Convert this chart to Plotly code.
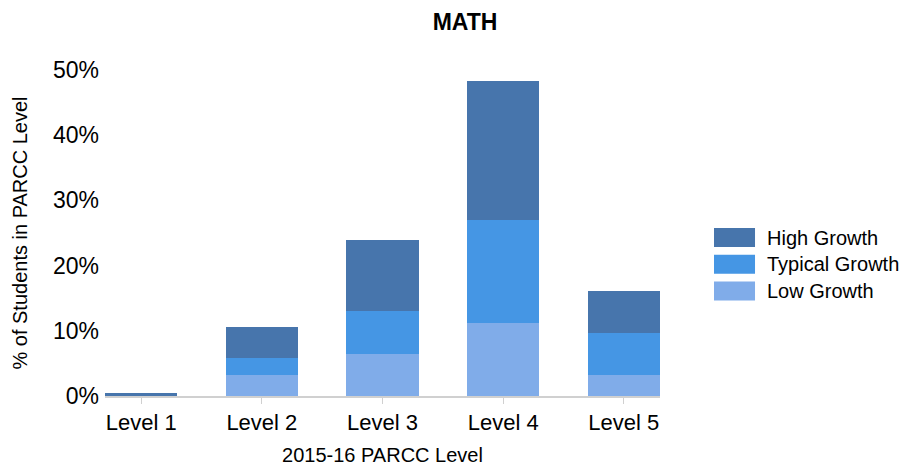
import plotly.graph_objects as go

categories = ["Level 1", "Level 2", "Level 3", "Level 4", "Level 5"]
low_growth = [0.0, 3.2, 6.4, 11.2, 3.2]
typical_growth = [0.0, 2.6, 6.6, 15.8, 6.5]
high_growth = [0.5, 4.8, 10.9, 21.3, 6.4]
series_names = ["Low Growth", "Typical Growth", "High Growth"]
series_colors = ["#80ace9", "#4596e4", "#4775ac"]
y_ticks = [0, 10, 20, 30, 40, 50]
y_tick_labels = ["0%", "10%", "20%", "30%", "40%", "50%"]

FONT = "Liberation Sans, Arial, sans-serif"

fig = go.Figure()
for name, vals, col in zip(series_names, [low_growth, typical_growth, high_growth], series_colors):
    fig.add_bar(x=categories, y=vals, name=name, marker_color=col, marker_line_width=0,
                showlegend=False)

# custom legend (large swatches), top entry = High Growth
legend_order = list(zip(series_names, series_colors))[::-1]
sw_x0, sw_x1, txt_x = 1.0973, 1.1712, 1.1892
sw_h, step, top = 0.0583, 0.082, 0.5153
for i, (name, col) in enumerate(legend_order):
    y1 = top - i * step
    y0 = y1 - sw_h
    fig.add_shape(type="rect", xref="paper", yref="paper", x0=sw_x0, x1=sw_x1, y0=y0, y1=y1,
                  fillcolor=col, line_width=0)
    fig.add_annotation(xref="paper", yref="paper", x=txt_x, y=(y0 + y1) / 2, text=name,
                       showarrow=False, xanchor="left", yanchor="middle",
                       font=dict(size=20, family=FONT, color="#000"))

fig.update_layout(
    barmode="stack",
    bargap=0.4,
    width=907, height=466,
    paper_bgcolor="white", plot_bgcolor="white",
    font=dict(family=FONT, color="#000"),
    title=dict(text="<b>MATH</b>", x=465 / 907, xanchor="center", y=1 - 22 / 466, yanchor="middle",
               font=dict(size=23)),
    margin=dict(l=105, r=247, t=70, b=70, autoexpand=False),
    showlegend=False,
    xaxis=dict(range=[-0.3, 4.3], showline=True, linecolor="#d0d0d0", linewidth=2,
               ticks="outside", ticklen=6, tickcolor="#d0d0d0", automargin=False,
               tickfont=dict(size=22),
               title=dict(text="2015-16 PARCC Level", font=dict(size=20), standoff=16)),
    yaxis=dict(range=[0, 50], tickvals=y_ticks, ticktext=y_tick_labels, showgrid=False,
               zeroline=False, tickfont=dict(size=23), ticks="", ticklabelstandoff=5,
               automargin=False,
               title=dict(text="% of Students in PARCC Level", font=dict(size=20), standoff=19)),
)

fig.write_html("out.html", config={"displayModeBar": False},
               post_script="document.body.style.margin='0';document.body.style.overflow='hidden';")
